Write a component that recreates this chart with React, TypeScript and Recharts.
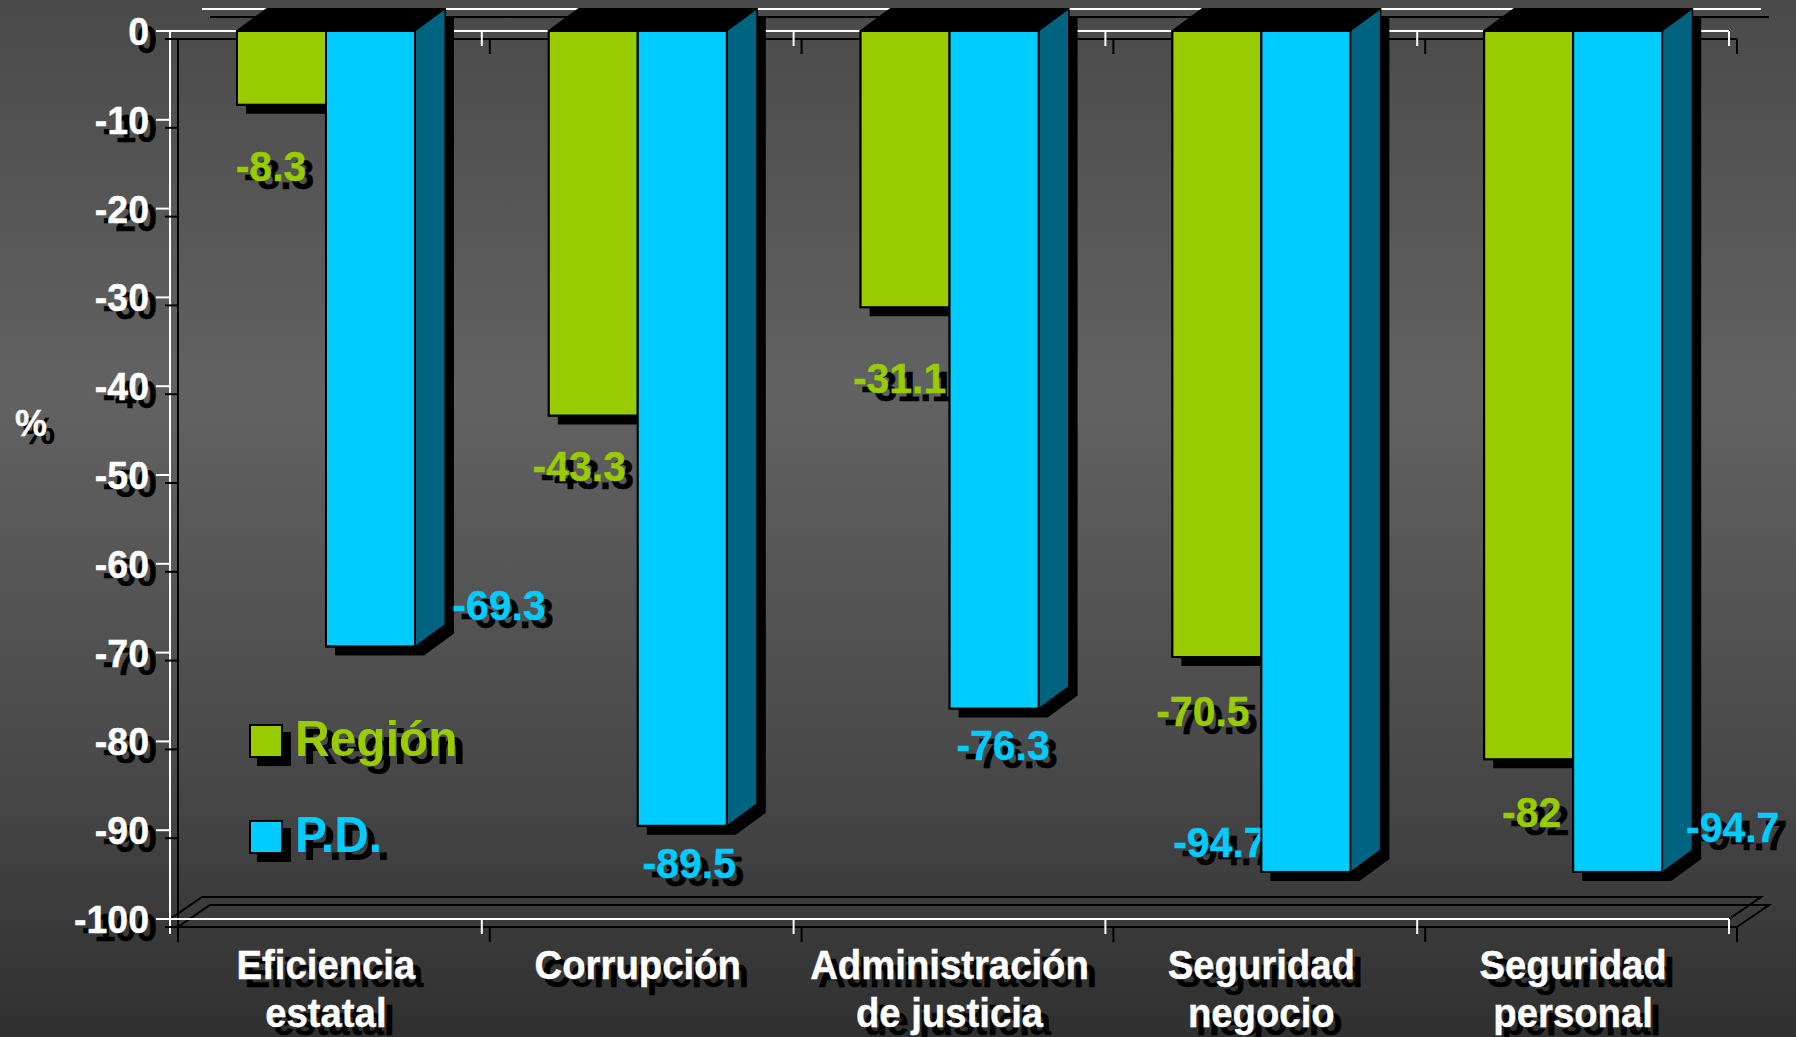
import React from 'react';
import { ComposedChart, Bar, XAxis, YAxis, Legend } from 'recharts';

const categories = ['Eficiencia\nestatal', 'Corrupción', 'Administración\nde justicia', 'Seguridad\nnegocio', 'Seguridad\npersonal'];
const regionValues = [-8.3, -43.3, -31.1, -70.5, -82];
const pdValues = [-69.3, -89.5, -76.3, -94.7, -94.7];
const yTicks = [0, -10, -20, -30, -40, -50, -60, -70, -80, -90, -100];

const regionLabelOffset = [[-10.5, 62], [-14, 51.5], [-5.5, 72], [-14, 55], [3, 54]];
const pdLabelOffset = [[128.5, -40], [7, 38], [9, 37.5], [-86, -29], [115, -44]];

const W = 1796, H = 1037;
const LEFT = 170, RIGHT = 1729, TOP = 31, BOTTOM = 919;
const FONT = '"Liberation Sans", Arial, sans-serif';
const GREEN = '#99cc00', BLUE = '#00ccff', SIDE_BLUE = '#006480';
const DX = 30, DY = 22, SH = 8;
const VS = 1.05;

const rows = categories.map((name, i) => ({ name, region: regionValues[i], pd: pdValues[i] }));

function ShadowText({ x, y, children, fill = '#fff', size, anchor = 'middle' }: any) {
  const common = { fontFamily: FONT, fontWeight: 700, fontSize: size, textAnchor: anchor, strokeWidth: 0.4 };
  return (
    <g>
      <text transform={`translate(${x + SH} ${y + SH}) scale(1 ${VS})`} fill="#000" stroke="#000" {...common}>{children}</text>
      <text transform={`translate(${x} ${y}) scale(1 ${VS})`} fill={fill} stroke={fill} {...common}>{children}</text>
    </g>
  );
}

function Bar3D({ x, y, width, height, fill, side, value, offset, color }: any) {
  const top = Math.min(y, y + height);
  const bottom = Math.max(y, y + height);
  const l = x, r = x + width;
  const outline = `${l},${top} ${l + DX},${top - DY} ${r + DX},${top - DY} ${r + DX},${bottom - DY} ${r},${bottom} ${l},${bottom}`;
  const shadow = `${l + SH + 1},${top + SH} ${l + DX + SH + 1},${top - DY + SH} ${r + DX + SH + 1},${top - DY + SH} ${r + DX + SH + 1},${bottom - DY + SH + 1} ${r + SH + 1},${bottom + SH + 1} ${l + SH + 1},${bottom + SH + 1}`;
  return (
    <g>
      <polygon points={shadow} fill="#000" />
      <polygon points={outline} fill="#000" stroke="#000" strokeWidth={2} />
      <polygon points={`${r},${top} ${r + DX},${top - DY} ${r + DX},${bottom - DY} ${r},${bottom}`} fill={side} stroke="#000" strokeWidth={1} />
      <ShadowText x={l + width / 2 + offset[0]} y={bottom + offset[1] + 14} fill={color} size={41}>{value}</ShadowText>
      <rect x={l} y={top} width={width} height={bottom - top} fill={fill} stroke="#000" strokeWidth={2} />
    </g>
  );
}

const GreenBar = (p: any) => (
  <Bar3D {...p} fill={GREEN} side="#5f8000" color={GREEN} value={p.payload.region} offset={regionLabelOffset[p.index]} />
);
const BlueBar = (p: any) => (
  <Bar3D {...p} fill={BLUE} side={SIDE_BLUE} color={BLUE} value={p.payload.pd} offset={pdLabelOffset[p.index]} />
);

function YTick({ x, y, payload }: any) {
  return (
    <g>
      <line x1={x - 5} x2={x + 8} y1={y + SH} y2={y + SH} stroke="#000" strokeWidth={2} />
      <line x1={x - 14} x2={x} y1={y} y2={y} stroke="#fff" strokeWidth={2} />
      <ShadowText x={x - 21} y={y + 14} size={37.5} anchor="end">{payload.value}</ShadowText>
    </g>
  );
}

function XTick({ x, y, payload }: any) {
  const lines = String(payload.value).split('\n');
  return (
    <g>
      {lines.map((t: string, i: number) => (
        <ShadowText key={t} x={x} y={y + 60 + i * 48} size={38.3}>{t}</ShadowText>
      ))}
    </g>
  );
}

function BackFrame() {
  const band = (RIGHT - LEFT) / categories.length;
  const edges = categories.map((_, i) => LEFT + band * (i + 1));
  const bd = 32, bh = 22;
  return (
    <g fill="none">
      <g stroke="#000" strokeWidth={2}>
        <path d={`M${LEFT + bd + SH} ${TOP - bh + SH}H${RIGHT + bd + SH}`} />
        <path d={`M${LEFT + SH} ${TOP + SH}H${RIGHT + SH}M${LEFT + SH} ${TOP + SH}V${BOTTOM + 15 + SH}M${LEFT + SH} ${BOTTOM + SH}H${RIGHT + SH}`} />
        <path d={`M${LEFT + SH} ${BOTTOM + SH}L${LEFT + bd + SH} ${BOTTOM - bh + SH}H${RIGHT + bd + SH}L${RIGHT + SH} ${BOTTOM + SH}`} />
        <path d={`M${LEFT} ${BOTTOM}L${LEFT + bd} ${BOTTOM - bh}H${RIGHT + bd}L${RIGHT} ${BOTTOM}`} />
        {edges.map((e) => (
          <g key={e}>
            <path d={`M${e + SH} ${TOP + SH}v15`} />
            <path d={`M${e + SH} ${BOTTOM + SH}v15`} />
          </g>
        ))}
      </g>
      <path d={`M${LEFT + bd} ${TOP - bh}H${RIGHT + bd}`} stroke="#fff" strokeWidth={2} />
    </g>
  );
}

function FrontFrame() {
  const band = (RIGHT - LEFT) / categories.length;
  const edges = categories.map((_, i) => LEFT + band * (i + 1));
  return (
    <g fill="none" stroke="#fff" strokeWidth={2}>
      <path d={`M${LEFT} ${TOP}H${RIGHT}M${LEFT} ${TOP}V${BOTTOM + 15}M${LEFT} ${BOTTOM}H${RIGHT}`} />
      {edges.map((e) => (
        <g key={e}>
          <path d={`M${e} ${TOP}v15`} />
          <path d={`M${e} ${BOTTOM}v15`} />
        </g>
      ))}
    </g>
  );
}

function LegendBox({ payload }: any) {
  return (
    <div style={{ fontFamily: FONT, fontWeight: 700 }}>
      {(payload || []).map((e: any, i: number) => (
        <div key={e.value} style={{ position: 'absolute', left: 0, top: i * 96, height: 34, whiteSpace: 'nowrap' }}>
          <div style={{ position: 'absolute', left: 0, top: 0, width: 30, height: 30, background: e.color, border: '2px solid #000', boxShadow: '8px 8px 0 #000' }} />
          <div style={{ position: 'absolute', left: 46, top: -12, fontSize: 48, lineHeight: '54px', color: e.color, textShadow: '8px 8px 0 #000', transform: 'scaleY(1.05)' }}>{e.value}</div>
        </div>
      ))}
    </div>
  );
}

export default function App() {
  return (
    <div style={{ position: 'absolute', left: 0, top: 0, width: W, height: H, overflow: 'hidden', background: 'linear-gradient(180deg,#4a4a4a 0%,#626262 38%,#4a4a4a 72%,#303030 100%)' }}>
      <ComposedChart
        width={W}
        height={H}
        data={rows}
        barGap={0}
        margin={{ top: TOP, right: W - RIGHT, bottom: 0, left: 0 }}
      >
        <BackFrame />
        <XAxis dataKey="name" interval={0} height={H - BOTTOM} axisLine={false} tickLine={false} tickSize={0} tickMargin={0} tick={<XTick />} />
        <YAxis domain={[-100, 0]} ticks={yTicks} interval={0} width={LEFT} axisLine={false} tickLine={false} tickSize={0} tickMargin={0} tick={<YTick />} />
        <Legend
          layout="vertical"
          align="center"
          verticalAlign="middle"
          itemSorter={null}
          content={<LegendBox />}
          wrapperStyle={{ position: 'absolute', left: 249, top: 724, width: 300, height: 140 }}
        />
        <Bar dataKey="region" name="Región" fill={GREEN} barSize={89} isAnimationActive={false} shape={GreenBar} />
        <Bar dataKey="pd" name="P.D." fill={BLUE} barSize={89} isAnimationActive={false} shape={BlueBar} />
        <FrontFrame />
        <ShadowText x={31} y={436} size={36}>%</ShadowText>
      </ComposedChart>
    </div>
  );
}
